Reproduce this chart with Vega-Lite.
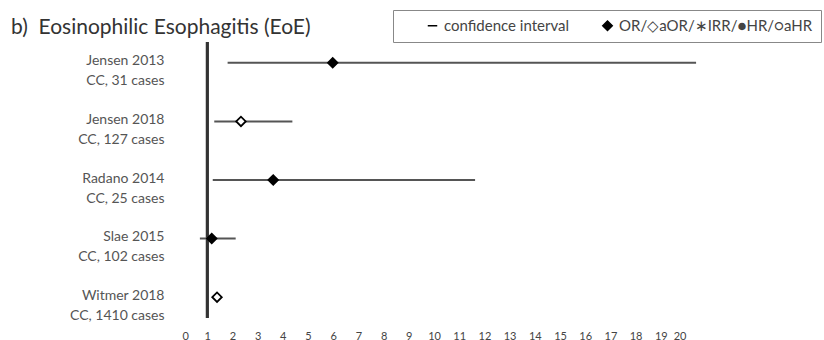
{
  "$schema": "https://vega.github.io/schema/vega-lite/v6.json",
  "width": 504,
  "height": 276,
  "autosize": {"type": "none"},
  "padding": {"left": 182, "top": 42, "right": 138, "bottom": 22},
  "background": "white",
  "config": {"view": {"stroke": null}, "font": "Lato"},
  "title": {
    "text": "b)\u00a0\u00a0Eosinophilic Esophagitis (EoE)",
    "anchor": "start",
    "frame": "group",
    "dx": -171,
    "dy": 38,
    "fontSize": 21,
    "font": "Lato",
    "fontWeight": "normal",
    "color": "#333333",
    "offset": 10
  },
  "data": {
    "values": [
      {"study": "Jensen 2013|CC, 31 cases", "measure": "OR", "est": 5.98, "lo": 1.81, "hi": 20.4},
      {"study": "Jensen 2018|CC, 127 cases", "measure": "aOR", "est": 2.34, "lo": 1.28, "hi": 4.38},
      {"study": "Radano 2014|CC, 25 cases", "measure": "OR", "est": 3.62, "lo": 1.22, "hi": 11.63},
      {"study": "Slae 2015|CC, 102 cases", "measure": "OR", "est": 1.18, "lo": 0.71, "hi": 2.13},
      {"study": "Witmer 2018|CC, 1410 cases", "measure": "aOR", "est": 1.39, "lo": 1.3, "hi": 1.5}
    ]
  },
  "encoding": {
    "y": {
      "field": "study",
      "type": "nominal",
      "sort": null,
      "scale": {"type": "point", "padding": 0.355},
      "axis": {
        "title": null,
        "domain": false,
        "ticks": false,
        "labelExpr": "split(datum.label, '|')",
        "labelFont": "Lato",
        "labelFontSize": 14,
        "labelColor": "#555555",
        "labelLineHeight": 20,
        "labelPadding": 18,
        "labelOffset": -2,
        "labelLimit": 300
      }
    }
  },
  "layer": [
    {
      "mark": {"type": "rule", "color": "#333333", "strokeWidth": 2.5},
      "encoding": {
        "x": {
          "datum": 1,
          "type": "quantitative",
          "scale": {"domain": [0, 20], "nice": false, "zero": false},
          "axis": {
            "title": null,
            "values": [0,1,2,3,4,5,6,7,8,9,10,11,12,13,14,15,16,17,18,19,20],
            "tickCount": 21,
            "domain": false,
            "ticks": false,
            "grid": false,
            "labelOverlap": false,
            "labelFont": "Lato",
            "labelFontSize": 11,
            "labelColor": "#444444",
            "labelPadding": 12
          }
        },
        "y": null
      }
    },
    {
      "mark": {"type": "rule", "color": "#555555", "strokeWidth": 2},
      "encoding": {
        "x": {
          "field": "lo",
          "type": "quantitative",
          "axis": {
            "title": null,
            "values": [0,1,2,3,4,5,6,7,8,9,10,11,12,13,14,15,16,17,18,19,20],
            "tickCount": 21,
            "domain": false,
            "ticks": false,
            "grid": false,
            "labelOverlap": false,
            "labelFont": "Lato",
            "labelFontSize": 11,
            "labelColor": "#444444",
            "labelPadding": 12
          }
        },
        "x2": {"field": "hi"}
      }
    },
    {
      "mark": {"type": "point", "filled": true, "stroke": "black", "strokeWidth": 1.8, "size": 90, "opacity": 1},
      "encoding": {
        "x": {
          "field": "est",
          "type": "quantitative",
          "axis": {
            "title": null,
            "values": [0,1,2,3,4,5,6,7,8,9,10,11,12,13,14,15,16,17,18,19,20],
            "tickCount": 21,
            "domain": false,
            "ticks": false,
            "grid": false,
            "labelOverlap": false,
            "labelFont": "Lato",
            "labelFontSize": 11,
            "labelColor": "#444444",
            "labelPadding": 12
          }
        },
        "fill": {
          "field": "measure",
          "type": "nominal",
          "scale": {"domain": ["OR", "aOR"], "range": ["black", "white"]},
          "legend": null
        },
        "shape": {
          "datum": "OR/◇aOR/∗IRR/●HR/○aHR",
          "type": "nominal",
          "scale": {"domain": ["confidence interval", "OR/◇aOR/∗IRR/●HR/○aHR"], "range": ["stroke", "diamond"]},
          "legend": {
            "title": null,
            "orient": "none",
            "legendX": 211,
            "legendY": -32,
            "direction": "horizontal",
            "strokeColor": "#888888",
            "padding": 8,
            "columnPadding": 6,
            "labelFont": "Lato",
            "labelFontSize": 15,
            "labelColor": "#444444",
            "labelLimit": 400,
            "symbolSize": 90,
            "symbolStrokeWidth": 1.5,
            "symbolOffset": 24,
            "encode": {
              "symbols": {
                "update": {
                  "fill": {"value": "black"},
                  "stroke": {"signal": "datum.value === 'confidence interval' ? '#777777' : 'black'"}
                }
              }
            }
          }
        }
      }
    }
  ]
}
